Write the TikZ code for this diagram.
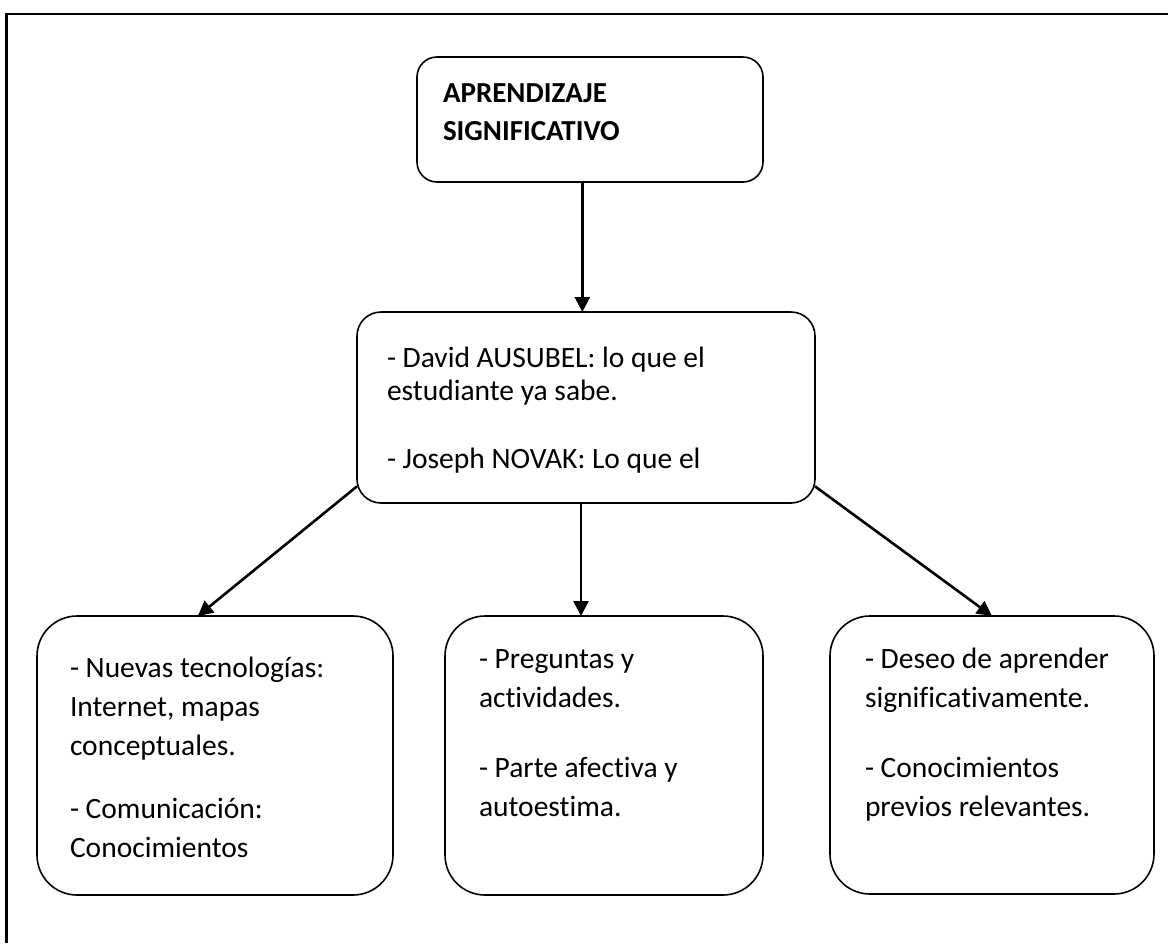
\documentclass[tikz,border=0pt]{standalone}
\usepackage{fontspec}
\setmainfont{Carlito}[Ligatures={NoCommon}, Contextuals={NoAlternate}]
\usetikzlibrary{arrows.meta}

\begin{document}
\begin{tikzpicture}
      [x=0.5pt, y=-0.5pt,
        box/.style={draw, line width=0.8pt, align=flush left, anchor=base west,
          inner ysep=0pt, outer sep=0pt, font=\fontsize{14.75}{19.5}\selectfont},
        link/.style={-{Triangle[length=7.5pt,width=7.5pt]}, line width=1.3pt}]
    \useasboundingbox (0,0) rectangle (1168,943);
    % page frame, cut off at right and bottom
    \draw[line width=1.1pt] (6.5,943) -- (6.5,14) -- (1168,14);
    \node[box, rounded corners=10pt, text width=147pt, inner xsep=13pt,
      text height=22.5pt, text depth=40pt,
      font=\fontsize{14.5}{19}\selectfont\bfseries]
      (top) at (417,102) {APRENDIZAJE\\SIGNIFICATIVO};
    \node[box, rounded corners=12pt, text width=199pt, inner xsep=15pt,
      text height=27.5pt, text depth=68pt,
      font=\fontsize{14.75}{16.5}\selectfont]
      (mid) at (357,367) {- David AUSUBEL: lo que el\\estudiante ya sabe.\\[17.5pt]- Joseph NOVAK: Lo que el};
    % the three lower boxes
    \node[box, rounded corners=20pt, text width=145pt, inner xsep=16.5pt,
      text height=30.5pt, text depth=109pt]
      (left) at (37,677) {- Nuevas tecnologías:\\Internet, mapas\\conceptuales.\\[12pt]- Comunicación:\\Conocimientos};
    \node[box, rounded corners=20pt, text width=125pt, inner xsep=17pt,
      text height=26pt, text depth=113.5pt]
      (ctr) at (445,668) {- Preguntas y\\actividades.\\[15.5pt]- Parte afectiva y\\autoestima.};
    \node[box, rounded corners=20pt, text width=127pt, inner xsep=17.5pt,
      text height=26pt, text depth=113pt]
      (right) at (830,668) {- Deseo de aprender\\significativamente.\\[15.5pt]- Conocimientos\\previos relevantes.};
    \draw[link] (top.263) -- (top.263 |- mid.north);
    \draw[link] (mid.199) -- (left.97);
    \draw[link] (mid.267) -- (mid.267 |- ctr.north);
    \draw[link] (mid.341) -- (right.north);
\end{tikzpicture}
\end{document}
